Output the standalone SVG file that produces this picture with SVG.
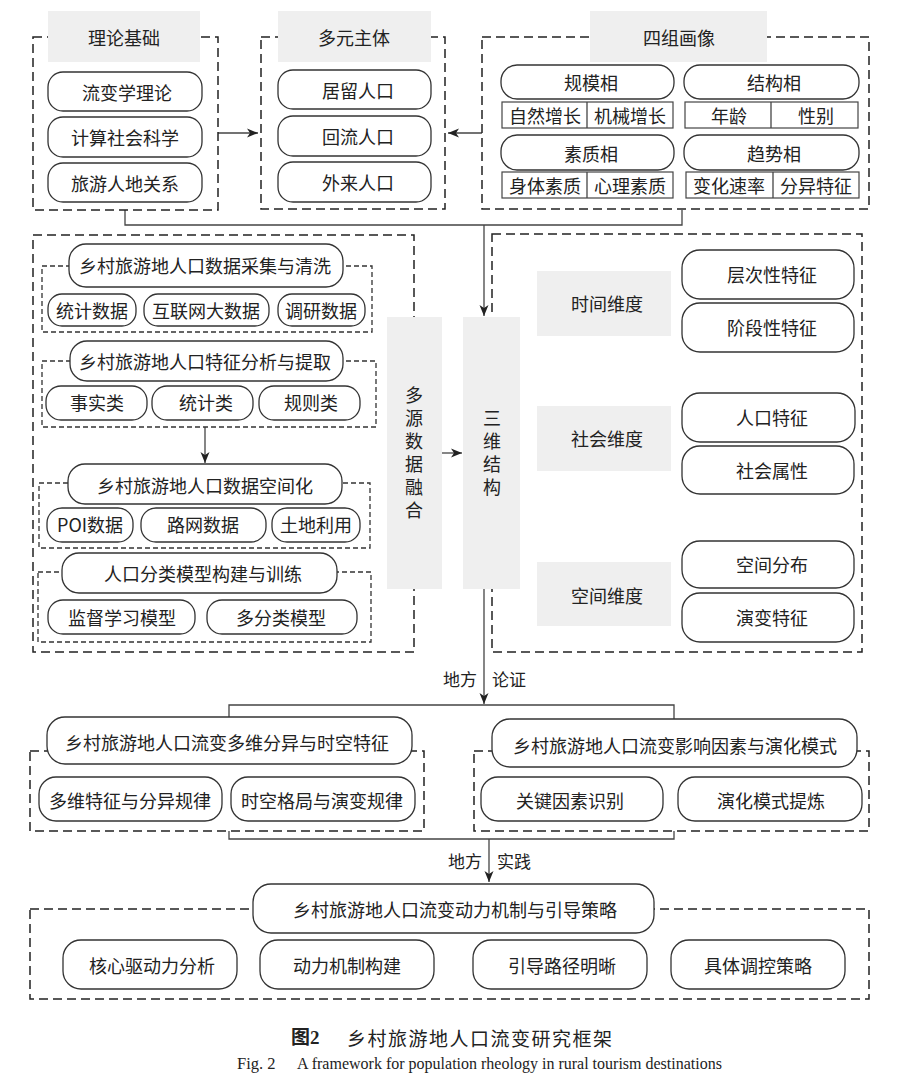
<svg xmlns="http://www.w3.org/2000/svg" width="902" height="1076" viewBox="0 0 902 1076">
<style>
.bg{fill:#ffffff}
.dash{fill:none;stroke:#222;stroke-width:1.5;stroke-dasharray:9 5}
.dash2{fill:none;stroke:#333;stroke-width:1.3;stroke-dasharray:5 3}
.rr{fill:#fff;stroke:#333;stroke-width:1.3}
.sq{fill:#fff;stroke:#444;stroke-width:1.2}
.grey{fill:#efefef}
.ln{fill:none;stroke:#444;stroke-width:1.3}
.t{font-family:"Noto Sans CJK SC","Noto Sans",sans-serif;font-size:18px;fill:#222;text-anchor:middle;dominant-baseline:central}
.vt{font-family:"Noto Sans CJK SC","Noto Sans",sans-serif;font-size:18px;fill:#222;text-anchor:middle;writing-mode:vertical-rl;letter-spacing:5px}
.lb{font-family:"Noto Sans CJK SC","Noto Sans",sans-serif;font-size:17px;fill:#222;dominant-baseline:central}
</style>
<defs>
<marker id="arr" markerWidth="12" markerHeight="10" refX="11" refY="5" orient="auto" markerUnits="userSpaceOnUse">
<path d="M0,0.5 L11,5 L0,9.5 L3,5 Z" fill="#222"/>
</marker>
</defs>
<rect class="bg" x="0" y="0" width="902" height="1076"/>

<g id="connectors">
<path class="ln" d="M125,210 V225 H682 V210"/>
<path class="ln" d="M484,225 V316" marker-end="url(#arr)"/>
<path class="ln" d="M218,133 H258" marker-end="url(#arr)"/>
<path class="ln" d="M482,133 H448" marker-end="url(#arr)"/>
<path class="ln" d="M205,427 V463" marker-end="url(#arr)"/>
<path class="ln" d="M442,453 H462" marker-end="url(#arr)"/>
<path class="ln" d="M484,589 V704" marker-end="url(#arr)"/>
<path class="ln" d="M229,717 V705 H674 V719"/>
<path class="ln" d="M229,831 V839 H674 V831"/>
<path class="ln" d="M489,839 V882" marker-end="url(#arr)"/>
<text class="lb" x="443" y="678">地方</text>
<text class="lb" x="492" y="678">论证</text>
<text class="lb" x="448" y="860">地方</text>
<text class="lb" x="497" y="860">实践</text>
</g>

<g id="theory">
<rect class="dash" x="33" y="37" width="185" height="173"/>
<rect class="grey" x="48" y="11" width="152" height="51"/>
<text class="t" x="124" y="37">理论基础</text>
<rect class="rr" x="48" y="72" width="154" height="39" rx="15"/>
<text class="t" x="127" y="92">流变学理论</text>
<rect class="rr" x="48" y="117" width="154" height="40" rx="15"/>
<text class="t" x="125" y="137">计算社会科学</text>
<rect class="rr" x="48" y="163" width="154" height="39" rx="15"/>
<text class="t" x="125" y="183">旅游人地关系</text>
</g>

<g id="subjects">
<rect class="dash" x="261" y="37" width="184" height="172"/>
<rect class="grey" x="278" y="11" width="153" height="51"/>
<text class="t" x="354" y="37">多元主体</text>
<rect class="rr" x="278" y="70" width="153" height="39" rx="15"/>
<text class="t" x="358" y="90">居留人口</text>
<rect class="rr" x="278" y="116" width="153" height="40" rx="15"/>
<text class="t" x="358" y="136">回流人口</text>
<rect class="rr" x="278" y="162" width="153" height="40" rx="15"/>
<text class="t" x="358" y="182">外来人口</text>
</g>

<g id="portraits">
<rect class="dash" x="482" y="37" width="387" height="172"/>
<rect class="grey" x="590" y="11" width="177" height="51"/>
<text class="t" x="679" y="37">四组画像</text>
<rect class="rr" x="501" y="65" width="173" height="34" rx="16"/>
<text class="t" x="591" y="82">规模相</text>
<rect class="sq" x="502" y="102" width="171" height="26"/>
<line class="ln" x1="587" y1="102" x2="587" y2="128"/>
<text class="t" x="545" y="115">自然增长</text>
<text class="t" x="630" y="115">机械增长</text>
<rect class="rr" x="684" y="65" width="175" height="34" rx="16"/>
<text class="t" x="774" y="82">结构相</text>
<rect class="sq" x="685" y="102" width="173" height="26"/>
<line class="ln" x1="771" y1="102" x2="771" y2="128"/>
<text class="t" x="729" y="115">年龄</text>
<text class="t" x="816" y="115">性别</text>
<rect class="rr" x="501" y="135" width="173" height="35" rx="16"/>
<text class="t" x="591" y="153">素质相</text>
<rect class="sq" x="502" y="172" width="171" height="26"/>
<line class="ln" x1="587" y1="172" x2="587" y2="198"/>
<text class="t" x="545" y="185">身体素质</text>
<text class="t" x="630" y="185">心理素质</text>
<rect class="rr" x="684" y="135" width="175" height="35" rx="16"/>
<text class="t" x="774" y="153">趋势相</text>
<rect class="sq" x="686" y="172" width="173" height="26"/>
<line class="ln" x1="773" y1="172" x2="773" y2="198"/>
<text class="t" x="729" y="185">变化速率</text>
<text class="t" x="816" y="185">分异特征</text>
</g>

<g id="data">
<rect class="dash" x="33" y="235" width="381" height="417"/>
<rect class="dash2" x="42" y="266" width="330" height="66"/>
<rect class="rr" x="69" y="244" width="274" height="43" rx="17"/>
<text class="t" x="205" y="265">乡村旅游地人口数据采集与清洗</text>
<rect class="rr" x="48" y="294" width="88" height="32" rx="14"/>
<text class="t" x="92" y="310">统计数据</text>
<rect class="rr" x="144" y="294" width="125" height="32" rx="14"/>
<text class="t" x="206" y="310">互联网大数据</text>
<rect class="rr" x="278" y="294" width="87" height="32" rx="14"/>
<text class="t" x="321" y="310">调研数据</text>

<rect class="dash2" x="42" y="361" width="334" height="66"/>
<rect class="rr" x="70" y="341" width="273" height="40" rx="17"/>
<text class="t" x="205" y="361">乡村旅游地人口特征分析与提取</text>
<rect class="rr" x="46" y="386" width="101" height="34" rx="15"/>
<text class="t" x="97" y="402">事实类</text>
<rect class="rr" x="152" y="386" width="101" height="34" rx="15"/>
<text class="t" x="206" y="402">统计类</text>
<rect class="rr" x="259" y="386" width="101" height="34" rx="15"/>
<text class="t" x="311" y="402">规则类</text>

<rect class="dash2" x="39" y="483" width="331" height="65"/>
<rect class="rr" x="68" y="464" width="274" height="40" rx="17"/>
<text class="t" x="205" y="485">乡村旅游地人口数据空间化</text>
<rect class="rr" x="47" y="508" width="86" height="34" rx="15"/>
<text class="t" x="90" y="524">POI数据</text>
<rect class="rr" x="141" y="508" width="125" height="34" rx="15"/>
<text class="t" x="203" y="524">路网数据</text>
<rect class="rr" x="272" y="508" width="88" height="34" rx="15"/>
<text class="t" x="316" y="524">土地利用</text>

<rect class="dash2" x="38" y="572" width="333" height="70"/>
<rect class="rr" x="62" y="553" width="275" height="40" rx="17"/>
<text class="t" x="203" y="573">人口分类模型构建与训练</text>
<rect class="rr" x="48" y="600" width="147" height="34" rx="15"/>
<text class="t" x="122" y="617">监督学习模型</text>
<rect class="rr" x="207" y="600" width="150" height="34" rx="15"/>
<text class="t" x="281" y="617">多分类模型</text>
</g>

<g id="dims">
<rect class="dash" x="492" y="234" width="370" height="418"/>
<rect class="grey" x="537" y="271" width="134" height="65"/>
<text class="t" x="607" y="303">时间维度</text>
<rect class="rr" x="682" y="250" width="172" height="49" rx="18"/>
<text class="t" x="772" y="274">层次性特征</text>
<rect class="rr" x="682" y="303" width="172" height="49" rx="18"/>
<text class="t" x="772" y="327">阶段性特征</text>
<rect class="grey" x="537" y="406" width="134" height="65"/>
<text class="t" x="607" y="438">社会维度</text>
<rect class="rr" x="682" y="393" width="173" height="49" rx="18"/>
<text class="t" x="772" y="417">人口特征</text>
<rect class="rr" x="682" y="446" width="172" height="48" rx="18"/>
<text class="t" x="772" y="470">社会属性</text>
<rect class="grey" x="537" y="562" width="134" height="64"/>
<text class="t" x="607" y="595">空间维度</text>
<rect class="rr" x="682" y="541" width="172" height="47" rx="18"/>
<text class="t" x="772" y="564">空间分布</text>
<rect class="rr" x="682" y="593" width="172" height="49" rx="18"/>
<text class="t" x="772" y="617">演变特征</text>
</g>

<g id="fusion">
<rect class="grey" x="387" y="317" width="55" height="272"/>
<text class="vt" x="414" y="455">多源数据融合</text>
</g>

<g id="structure">
<rect class="grey" x="463" y="317" width="57" height="272"/>
<text class="vt" x="492" y="455">三维结构</text>
</g>

<g id="diff">
<rect class="dash" x="30" y="751" width="394" height="80"/>
<rect class="rr" x="47" y="717" width="365" height="47" rx="18"/>
<text class="t" x="227" y="742">乡村旅游地人口流变多维分异与时空特征</text>
<rect class="rr" x="39" y="777" width="183" height="44" rx="17"/>
<text class="t" x="130" y="800">多维特征与分异规律</text>
<rect class="rr" x="231" y="777" width="184" height="44" rx="17"/>
<text class="t" x="322" y="800">时空格局与演变规律</text>
</g>

<g id="influence">
<rect class="dash" x="474" y="751" width="395" height="80"/>
<rect class="rr" x="492" y="719" width="365" height="48" rx="18"/>
<text class="t" x="675" y="745">乡村旅游地人口流变影响因素与演化模式</text>
<rect class="rr" x="481" y="777" width="182" height="44" rx="17"/>
<text class="t" x="570" y="800">关键因素识别</text>
<rect class="rr" x="678" y="777" width="184" height="44" rx="17"/>
<text class="t" x="771" y="800">演化模式提炼</text>
</g>

<g id="mechanism">
<rect class="dash" x="30" y="909" width="839" height="90"/>
<rect class="rr" x="253" y="884" width="401" height="49" rx="18"/>
<text class="t" x="455" y="909">乡村旅游地人口流变动力机制与引导策略</text>
<rect class="rr" x="63" y="940" width="174" height="49" rx="18"/>
<text class="t" x="152" y="965">核心驱动力分析</text>
<rect class="rr" x="260" y="940" width="174" height="49" rx="18"/>
<text class="t" x="347" y="965">动力机制构建</text>
<rect class="rr" x="473" y="940" width="174" height="49" rx="18"/>
<text class="t" x="562" y="965">引导路径明晰</text>
<rect class="rr" x="671" y="940" width="174" height="49" rx="18"/>
<text class="t" x="758" y="965">具体调控策略</text>
</g>

<g id="caption">
<text x="291" y="1037" font-family="'Liberation Serif','Noto Sans CJK SC',serif" font-size="19" font-weight="bold" fill="#222" dominant-baseline="central">图2</text>
<text x="347" y="1037" font-family="'Noto Sans CJK SC',sans-serif" font-size="19" fill="#222" dominant-baseline="central" textLength="265" lengthAdjust="spacing">乡村旅游地人口流变研究框架</text>
<text x="237" y="1063" font-family="'Liberation Serif',serif" font-size="16.5" fill="#222" dominant-baseline="central">Fig. 2</text>
<text x="297" y="1063" font-family="'Liberation Serif',serif" font-size="16.5" fill="#222" dominant-baseline="central" textLength="425" lengthAdjust="spacingAndGlyphs">A framework for population rheology in rural tourism destinations</text>
</g>
</svg>
